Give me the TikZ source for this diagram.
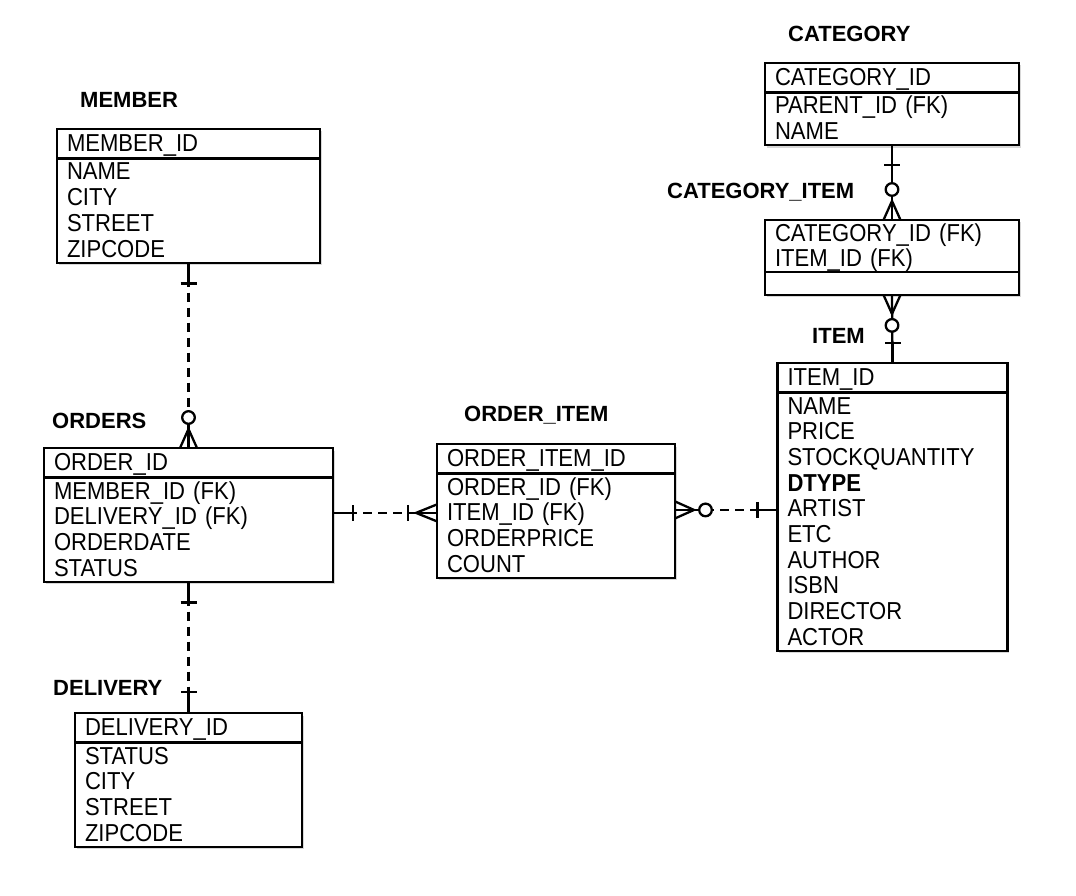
\documentclass[tikz,border=0pt]{standalone}
\usepackage{fontspec}
\setmainfont{Liberation Sans}
\newfontfamily\fieldfamily{Liberation Sans}[FakeStretch=0.9]
\usetikzlibrary{positioning, calc, shadows}
\newcommand{\fieldfont}{\fieldfamily\fontsize{24.5}{25.7}\selectfont}
\newcommand{\titlefont}{\fontsize{22}{24}\selectfont\bfseries}
\tikzset{
  erbox/.style={
    draw,
    rectangle,
    line width=2.2pt,
    outer sep=0pt,
    fill=white,
    align=left,
    text width=#1,
    inner xsep=10pt,
    font=\fieldfont,
    drop shadow={shadow xshift=1.5pt, shadow yshift=-2.5pt, opacity=.3}
  },
  head/.style={erbox=#1, inner ysep=5.5pt, text height=17pt, text depth=1.5pt},
  cols/.style={erbox=#1, inner ysep=4.5pt, text height=17pt},
  title/.style={font=\titlefont, anchor=base west, inner sep=0pt},
  rel/.style={line width=2.3pt},
  link/.style={line width=2.3pt, dash pattern=on 9pt off 6pt},
  pics/erone/.style={code={
    \draw[rel] (0,0) -- (#1,0);
    \draw[rel] (#1,-8) -- (#1,8);
  }},
  pics/ermanyone/.style={code={
    \draw[rel] (0,0) -- (29,0);
    \draw[rel] (0,8.5) -- (21,0) -- (0,-8.5);
    \draw[rel] (29,-8) -- (29,8);
  }},
  pics/ermanyzero/.style={code={
    \draw[rel] (0,0) -- (24,0);
    \draw[rel] (0,8.5) -- (19,0) -- (0,-8.5);
    \draw[rel, fill=white] (30.5,0) circle (6.3pt);
  }}
}
\begin{document}
\begin{tikzpicture}[x=1pt, y=1pt]
  \useasboundingbox (0,0) rectangle (1076,-896);
  \fill[white] (0,0) rectangle (1076,-896);

  % entities
  \node[head=243pt, anchor=north west] (member) at (57,-129) {MEMBER\_ID};
  \node[cols=243pt, text depth=78.1pt, below=0pt of member] (member-cols) {NAME\\CITY\\STREET\\ZIPCODE};

  \node[head=269pt, anchor=north west] (orders) at (44,-448) {ORDER\_ID};
  \node[cols=269pt, text depth=78.1pt, below=0pt of orders] (orders-cols) {MEMBER\_ID (FK)\\DELIVERY\_ID (FK)\\ORDERDATE\\STATUS};

  \node[head=207pt, anchor=north west] (delivery) at (75,-713) {DELIVERY\_ID};
  \node[cols=207pt, text depth=78.1pt, below=0pt of delivery] (delivery-cols) {STATUS\\CITY\\STREET\\ZIPCODE};

  \node[head=218pt, anchor=north west] (oi) at (437,-444) {ORDER\_ITEM\_ID};
  \node[cols=218pt, text depth=78.1pt, below=0pt of oi] (oi-cols) {ORDER\_ID (FK)\\ITEM\_ID (FK)\\ORDERPRICE\\COUNT};

  \node[head=234pt, anchor=north west] (cat) at (765,-63) {CATEGORY\_ID};
  \node[cols=234pt, text depth=26.7pt, below=0pt of cat] (cat-cols) {PARENT\_ID (FK)\\NAME};

  \node[head=234pt, text depth=27.2pt, inner ysep=4pt, anchor=north west] (catitem) at (765,-220) {CATEGORY\_ID (FK)\\ITEM\_ID (FK)};
  \node[erbox=234pt, inner ysep=0pt, minimum height=22.7pt, below=0pt of catitem] (catitem-cols) {};

  \node[head=210pt, anchor=north west] (item) at (777.5,-363) {ITEM\_ID};
  \node[cols=210pt, text depth=232.3pt, below=0pt of item] (item-cols) {NAME\\PRICE\\STOCKQUANTITY\\\textbf{DTYPE}\\ARTIST\\ETC\\AUTHOR\\ISBN\\DIRECTOR\\ACTOR};

  % titles
  \node[title] (member-t) at (80,-108) {MEMBER};
  \node[title] (orders-t) at (52,-428) {ORDERS};
  \node[title] (delivery-t) at (53,-695) {DELIVERY};
  \node[title] (oi-t) at (464,-421.7) {ORDER\_ITEM};
  \node[title] (cat-t) at (788,-41.7) {CATEGORY};
  \node[title] (catitem-t) at (667,-199) {CATEGORY\_ITEM};
  \node[title] (item-t) at (812,-343) {ITEM};

  % relations
  \coordinate (orders-r) at ($(orders-cols.north east)!0.34!(orders-cols.south east)$);
  \coordinate (oi-l) at (oi-cols.west |- orders-r);
  \coordinate (oi-r) at ($(oi-cols.north east)!0.35!(oi-cols.south east)$);
  \coordinate (item-l) at (item-cols.west |- oi-r);

  \draw[link] (member-cols.south) -- (orders.north);
  \pic[rotate=-90] at (member-cols.south) {erone=21};
  \pic[rotate=90] at (orders.north) {ermanyzero};

  \draw[link] (orders-cols.south) -- (delivery.north);
  \pic[rotate=-90] at (orders-cols.south) {erone=21};
  \pic[rotate=90] at (delivery.north) {erone=21};

  \draw[link] (orders-r) -- (oi-l);
  \pic at (orders-r) {erone=20};
  \pic[rotate=180] at (oi-l) {ermanyone};

  \draw[link] (oi-r) -- (item-l);
  \pic at (oi-r) {ermanyzero};
  \pic[rotate=180] at (item-l) {erone=20};

  \draw[rel] (cat-cols.south) -- (catitem.north);
  \pic[rotate=-90] at (cat-cols.south) {erone=20};
  \pic[rotate=90] at (catitem.north) {ermanyzero};

  \draw[rel] (catitem-cols.south) -- (item.north);
  \pic[rotate=-90] at (catitem-cols.south) {ermanyzero};
  \pic[rotate=90] at (item.north) {erone=20};
\end{tikzpicture}
\end{document}
